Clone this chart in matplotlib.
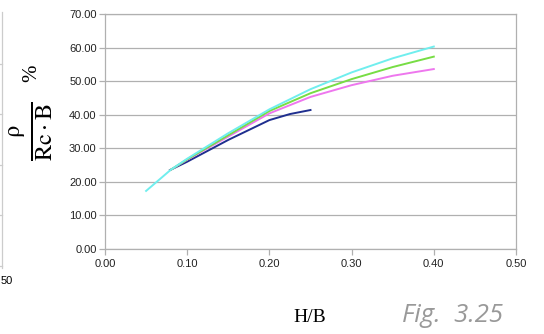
import numpy as np
import matplotlib
matplotlib.use("Agg")
import matplotlib.pyplot as plt

# curves (H/B vs rho/(Rc*B) %)
x_cyan = [0.05, 0.08, 0.10, 0.15, 0.20, 0.25, 0.30, 0.35, 0.40]
y_cyan = [17.3, 23.6, 26.9, 34.5, 41.6, 47.6, 52.6, 56.8, 60.3]
x_green = [0.08, 0.10, 0.15, 0.20, 0.25, 0.30, 0.35, 0.40]
y_green = [23.6, 26.7, 33.9, 41.1, 46.4, 50.6, 54.2, 57.3]
x_pink = [0.08, 0.10, 0.15, 0.20, 0.25, 0.30, 0.35, 0.40]
y_pink = [23.6, 26.6, 33.5, 40.4, 45.3, 48.8, 51.6, 53.6]
x_navy = [0.079, 0.10, 0.15, 0.20, 0.225, 0.25]
y_navy = [23.5, 26.0, 32.5, 38.4, 40.2, 41.4]

xticks = [0.0, 0.1, 0.2, 0.3, 0.4, 0.5]
yticks = [0, 10, 20, 30, 40, 50, 60, 70]

grey = "#b0b0b0"

fig = plt.figure(figsize=(5.44, 3.34), dpi=100)
ax = fig.add_axes([105 / 544, 1 - 249 / 334, 411 / 544, 235 / 334])

ax.plot(x_navy, y_navy, color="#1f2f8f", lw=1.4, zorder=3)
ax.plot(x_pink, y_pink, color="#ee77ee", lw=1.4, zorder=4)
ax.plot(x_green, y_green, color="#77dd44", lw=1.4, zorder=5)
ax.plot(x_cyan, y_cyan, color="#70eeee", lw=1.4, zorder=6)

ax.set_xlim(0, 0.5)
ax.set_ylim(0, 70)
ax.set_xticks(xticks)
ax.set_yticks(yticks)
ax.set_xticklabels(["%.2f" % v for v in xticks], family="Liberation Sans", fontsize=8)
ax.set_yticklabels(["%.2f" % v for v in yticks], family="Liberation Sans", fontsize=8)
ax.grid(axis="y", color=grey, lw=0.9)
for s in ax.spines.values():
    s.set_color(grey)
    s.set_linewidth(0.9)
ax.tick_params(colors=grey, labelcolor="#222222", length=4, width=0.9)
ax.tick_params(axis="y", pad=2)

plt.rcParams["mathtext.fontset"] = "stix"
fig.text(31 / 544, 1 - 131 / 334, r"$\frac{\mathrm{ρ}}{\mathrm{Rc\cdot B}}$", rotation=90,
         fontsize=25, ha="center", va="center")
fig.text(32 / 544, 1 - 73 / 334, "%", family="Liberation Serif", rotation=90,
         fontsize=15, ha="center", va="center")
fig.text(310 / 544, 1 - 317 / 334, "H/B", family="Liberation Serif", fontsize=14,
         ha="center", va="center")
fig.text(452 / 544, 1 - 316 / 334, "Fig.  3.25", family="Open Sans", style="italic",
         fontsize=18.5, color="#999999", ha="center", va="center")

# cut-off edge of the neighbouring chart on the left
fig.add_artist(plt.Line2D([2 / 544, 2 / 544], [1 - 12 / 334, 1 - 268 / 334], color="#cccccc", lw=0.9))
for yp in [64, 114, 165, 215, 266]:
    fig.add_artist(plt.Line2D([0, 2 / 544], [1 - yp / 334] * 2, color="#cccccc", lw=0.9))
fig.text(1 / 544, 1 - 281 / 334, "50", family="Liberation Sans", fontsize=8, ha="left", va="center")

fig.savefig("out.png", dpi=100)
